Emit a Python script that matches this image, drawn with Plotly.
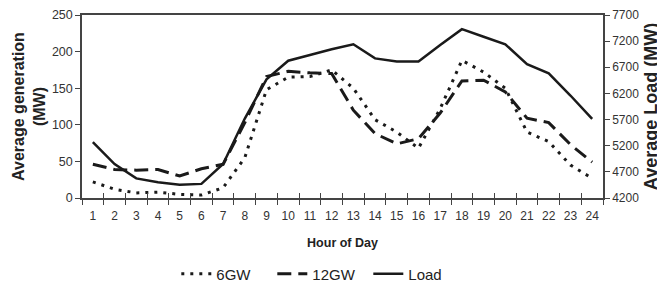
import plotly.graph_objects as go

hours = list(range(1, 25))
hour_labels = [str(h) for h in hours]
load_mw = [5270, 4850, 4575, 4500, 4455, 4470, 4850, 5720, 6470, 6825, 6935, 7045,
           7140, 6870, 6810, 6810, 7125, 7430, 7285, 7140, 6760, 6585, 6160, 5715]
gen_12gw = [46, 39, 38, 39, 30, 40, 46, 103, 166, 173, 171, 170,
            120, 88, 74, 81, 116, 160, 161, 145, 109, 103, 73, 49]
gen_6gw = [22, 12, 7, 8, 5, 4, 14, 55, 148, 165, 166, 175,
           150, 107, 90, 68, 122, 188, 172, 150, 90, 77, 45, 27]
left_ticks = [0, 50, 100, 150, 200, 250]
right_ticks = [4200, 4700, 5200, 5700, 6200, 6700, 7200, 7700]

FONT = "Liberation Sans, Arial, sans-serif"
AX = "#444444"
TXT = "#333333"

fig = go.Figure()
fig.add_trace(go.Scatter(x=hours, y=gen_6gw, name="6GW", mode="lines",
                         line=dict(color="#1a1a1a", width=3, dash="3px,6px")))
fig.add_trace(go.Scatter(x=hours, y=gen_12gw, name="12GW", mode="lines",
                         line=dict(color="#1a1a1a", width=3, dash="14px,7px")))
fig.add_trace(go.Scatter(x=hours, y=load_mw, name="Load", mode="lines", yaxis="y2",
                         line=dict(color="#1a1a1a", width=2.5)))

boundaries = [h + 0.5 for h in range(0, 25)]

# the page body adds an 8px offset, so the figure is sized to fit the window
fig.update_layout(
    width=657, height=277,
    margin=dict(l=74, r=62, t=7, b=87, autoexpand=False),
    paper_bgcolor="white", plot_bgcolor="white",
    font=dict(family=FONT, size=12, color=TXT),
    showlegend=True,
    legend=dict(orientation="h", x=0.181, xanchor="left", y=-0.325, yanchor="top",
                font=dict(size=15, color="#222222"), itemwidth=30, entrywidth=51,
                tracegroupgap=0, bgcolor="rgba(0,0,0,0)"),
    xaxis=dict(range=[0.5, 24.5], tickmode="array", tickvals=hours, ticktext=hour_labels,
               ticks="outside", ticklen=6, tickcolor="rgba(0,0,0,0)",
               showgrid=False, zeroline=False, automargin=False,
               showline=True, linecolor=AX, linewidth=1.5, mirror=True,
               tickfont=dict(size=12, color=TXT),
               minor=dict(tickmode="array", tickvals=boundaries, ticks="outside",
                          ticklen=5, tickwidth=1.2, tickcolor=AX),
               title=dict(text="<b>Hour of Day</b>", font=dict(size=12.5, color="#222222"),
                          standoff=16)),
    xaxis2=dict(range=[0.5, 24.5], overlaying="x", anchor="y", side="bottom",
                tickmode="array", tickvals=boundaries, ticks="inside", ticklen=5,
                tickwidth=1.2, tickcolor=AX, showticklabels=False, showgrid=False,
                zeroline=False, showline=False, automargin=False),
    yaxis=dict(range=[0, 250], tickmode="array", tickvals=left_ticks,
               ticks="outside", ticklen=5, tickwidth=1.2, tickcolor=AX, automargin=False,
               ticklabeloverflow="allow",
               showgrid=False, zeroline=False, showline=True, linecolor=AX, linewidth=1.5,
               tickfont=dict(size=12.5, color=TXT),
               title=dict(text="<b>Average generation<br>(MW)</b>",
                          font=dict(size=16, color="#222222"), standoff=2)),
    yaxis2=dict(range=[4200, 7700], tickmode="array", tickvals=right_ticks,
                overlaying="y", side="right", anchor="x", automargin=False,
                ticklabeloverflow="allow",
                ticks="outside", ticklen=5, tickwidth=1.2, tickcolor=AX,
                showgrid=False, zeroline=False, showline=True, linecolor=AX, linewidth=1.5,
                tickfont=dict(size=12, color=TXT),
                title=dict(text="<b>Average Load (MW)</b>",
                           font=dict(size=18, color="#222222"), standoff=6)),
)
# invisible trace to activate the overlay x axis used for inner tick marks
fig.add_trace(go.Scatter(x=[0.5], y=[0], xaxis="x2", mode="markers",
                         marker=dict(opacity=0), showlegend=False, hoverinfo="skip"))

fig.write_html("out.html")
